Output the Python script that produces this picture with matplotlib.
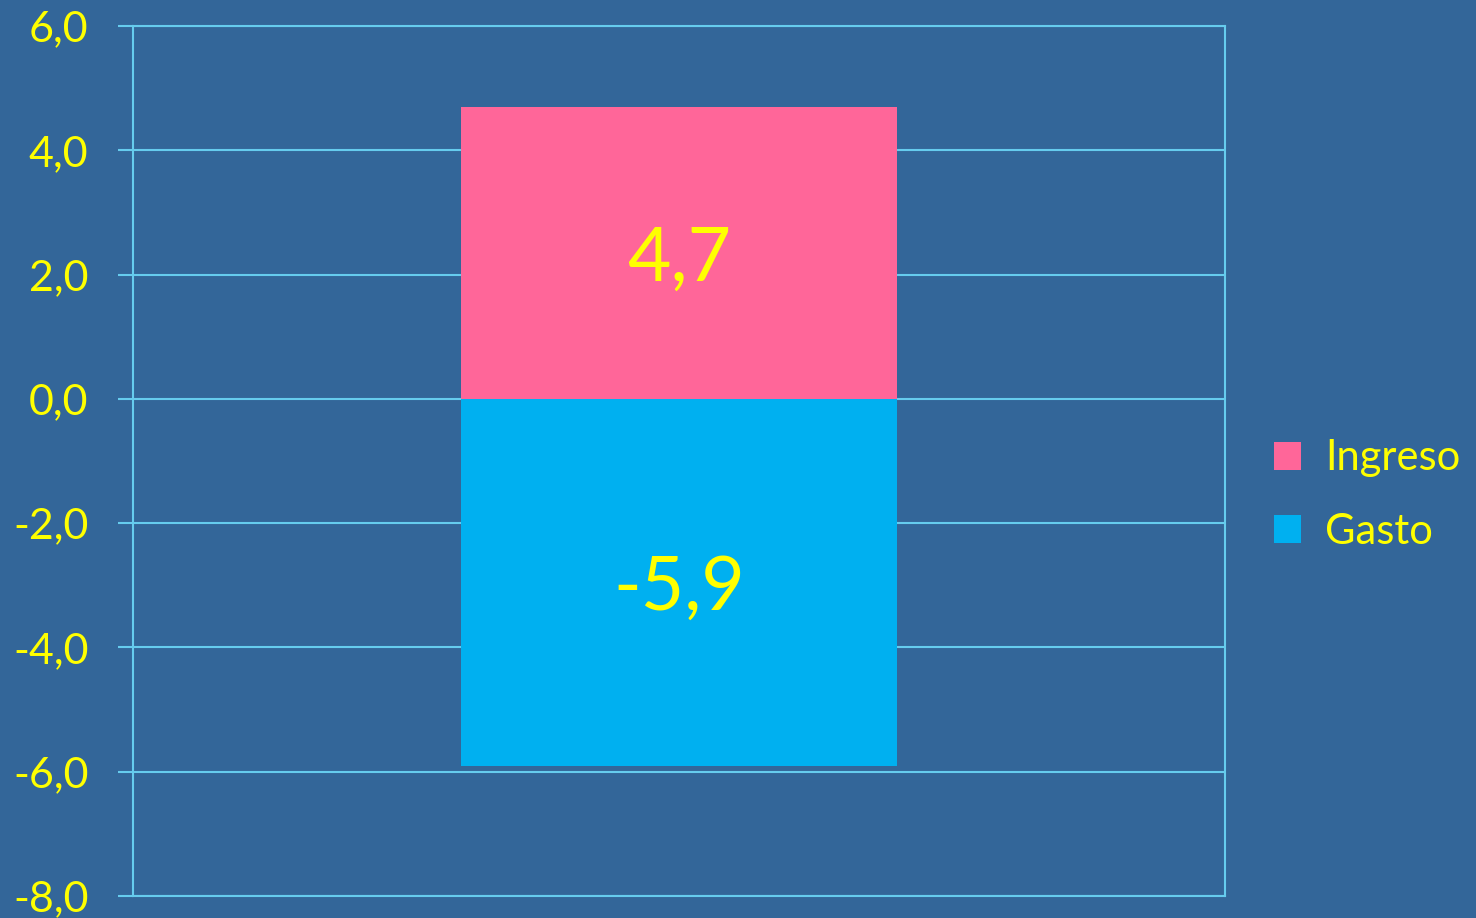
import numpy as np
import matplotlib.pyplot as plt
from matplotlib.ticker import FuncFormatter

series = ['Ingreso', 'Gasto']
values = [4.7, -5.9]
colors = ['#FF6699', '#00B0F0']
yticks = [-8, -6, -4, -2, 0, 2, 4, 6]

bg = '#336699'
line_col = '#66CCEE'
txt = '#FFFF00'

plt.rcParams['font.family'] = ['Lato', 'DejaVu Sans']

fig = plt.figure(figsize=(14.76, 9.18), dpi=100, facecolor=bg)
ax = fig.add_axes([133 / 1476, 1 - 896 / 918, (1225 - 133) / 1476, (896 - 26) / 918])
ax.set_facecolor(bg)

handles = []
for name, v, c in zip(series, values, colors):
    b = ax.bar([0], [v], width=0.8, color=c, label=name, zorder=2)
    handles.append(b)
    ax.text(0, v / 2, f'{v:.1f}'.replace('.', ','), color=txt, fontsize=54,
            ha='center', va='center_baseline', zorder=3)

ax.set_xlim(-1, 1)
ax.set_ylim(-8, 6)
ax.set_yticks(yticks)
ax.yaxis.set_major_formatter(FuncFormatter(lambda y, p: f'{y:.1f}'.replace('.', ',')))
ax.set_xticks([])
ax.grid(axis='y', color=line_col, linewidth=1.5, zorder=1)
ax.set_axisbelow(True)
for s in ax.spines.values():
    s.set_color(line_col)
    s.set_linewidth(1.5)
ax.tick_params(axis='y', colors=line_col, length=11, width=1.5, labelcolor=txt,
               labelsize=31, pad=21)

leg = fig.legend(handles=handles, loc='center left', bbox_to_anchor=(1274 / 1476, 1 - 495 / 918),
                 frameon=False, fontsize=30, handlelength=0.65, handleheight=0.65,
                 handletextpad=0.58, labelspacing=0.85, borderpad=0, borderaxespad=0,
                 labelcolor=txt)

fig.savefig('out.png', dpi=100, facecolor=bg)
